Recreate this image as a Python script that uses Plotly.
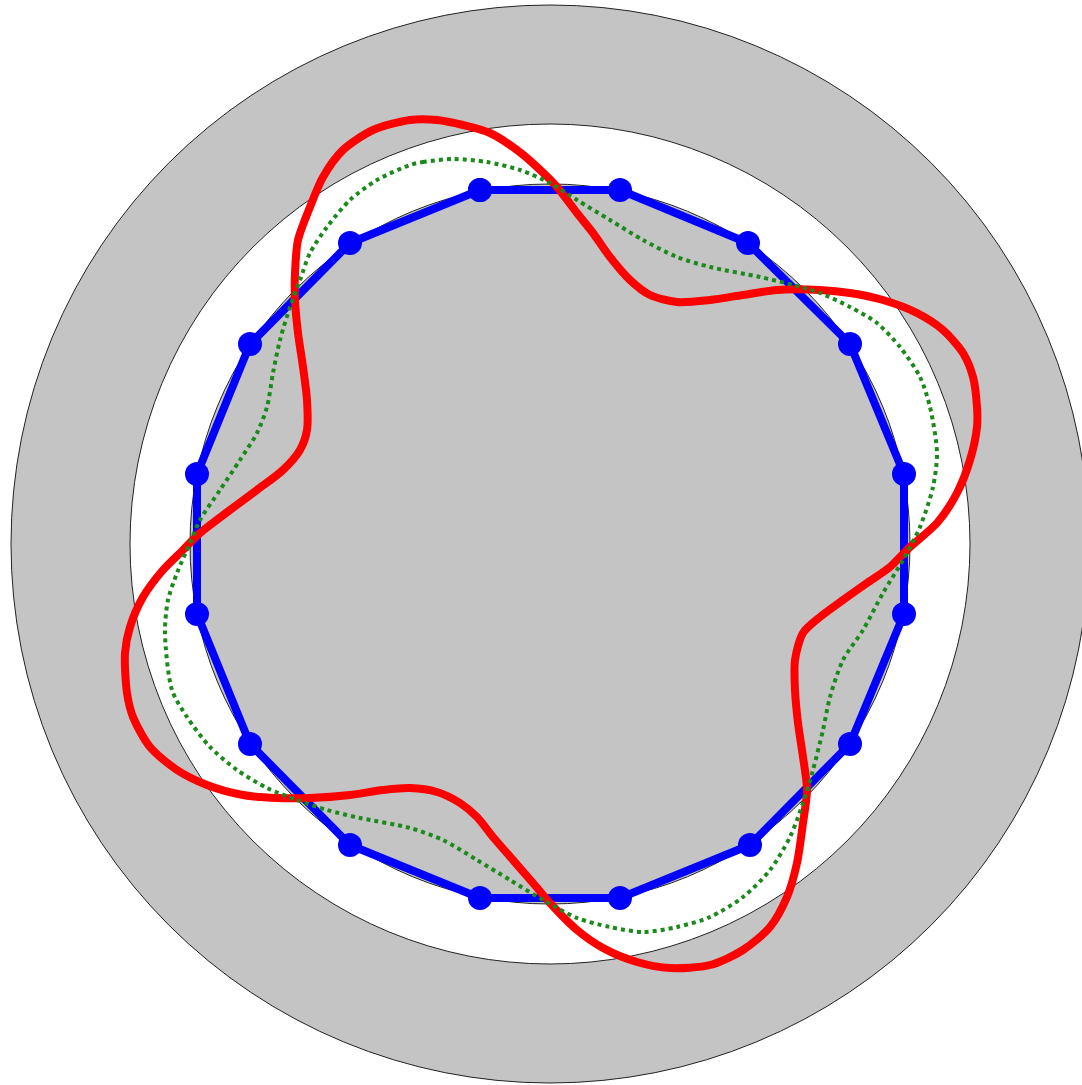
import plotly.graph_objects as go

# ---- data (data units: centred on the shaft axis, y up) ----
ring_radii = [539, 420, 360]          # outer housing, bore, rotor
ring_fills = ["#c4c4c4", "#ffffff", "#c4c4c4"]

poly_x = [-70, 70, 198, 300, 354, 354, 300, 200, 70, -70, -200, -300, -353, -353, -300, -200, -70]
poly_y = [354, 354, 301, 200, 70, -70, -200, -301, -354, -354, -301, -200, -70, 70, 200, 301, 354]

red_x = [-140, -113, -87, -60, -33, -13, 7, 27, 43, 60, 80, 100, 127, 160, 193, 227, 270, 300, 333, 367,
         393, 413, 423, 427, 427, 420, 407, 387, 360, 340, 317, 293, 270, 253, 245, 245, 248, 253, 257,
         253, 247, 237, 220, 193, 160, 120, 87, 53, 27, 0, -17, -37, -57, -73, -90, -113, -140, -167,
         -200, -240, -273, -307, -343, -373, -400, -417, -423, -425, -420, -407, -387, -367, -350, -320,
         -293, -267, -250, -243, -243, -247, -252, -255, -255, -252, -240, -227, -207, -177, -140]
red_y = [424, 424, 419, 411, 394, 377, 357, 331, 311, 287, 264, 249, 242, 244, 249, 254, 254, 251, 244, 231,
         214, 191, 167, 137, 117, 84, 51, 21, -3, -23, -39, -56, -73, -89, -116, -146, -179, -213, -246,
         -279, -319, -353, -383, -406, -421, -424, -418, -404, -386, -359, -339, -316, -293, -273, -259,
         -248, -244, -246, -251, -254, -254, -251, -241, -226, -203, -173, -149, -109, -83, -53, -26, -6,
         11, 34, 54, 74, 94, 114, 144, 177, 211, 244, 271, 304, 337, 367, 394, 414, 424]

green_x = [-140, -127, -97, -63, -30, 0, 27, 60, 93, 127, 160, 210, 243, 270, 300, 327, 350, 370, 380, 387,
           383, 370, 353, 333, 313, 293, 280, 273, 263, 253, 240, 220, 193, 160, 127, 93, 60, 27, -7, -40,
           -73, -107, -140, -190, -223, -253, -283, -313, -340, -363, -378, -385, -382, -373, -360, -350,
           -330, -310, -293, -283, -277, -270, -260, -250, -240, -223, -200, -173, -140]
green_y = [379, 382, 385, 382, 374, 361, 344, 324, 304, 287, 277, 267, 259, 251, 237, 221, 197, 167, 137, 91,
           57, 17, -16, -49, -86, -116, -153, -186, -226, -259, -293, -326, -353, -373, -383, -388, -383,
           -374, -356, -336, -316, -296, -284, -274, -266, -256, -244, -226, -203, -173, -146, -89, -56, -29,
           1, 24, 54, 84, 111, 137, 171, 204, 237, 264, 291, 317, 344, 364, 379]

# ---- figure ----
W, H = 1082, 1085
cx_px, cy_px = 550, 544

fig = go.Figure()

shapes = []
for r, col in zip(ring_radii, ring_fills):
    shapes.append(dict(type="circle", xref="x", yref="y", x0=-r, x1=r, y0=-r, y1=r,
                       fillcolor=col, line=dict(color="#222222", width=1), layer="below"))

fig.add_trace(go.Scatter(x=poly_x, y=poly_y, mode="lines+markers",
                         line=dict(color="#0000ff", width=8),
                         marker=dict(color="#0000ff", size=24), hoverinfo="skip"))
fig.add_trace(go.Scatter(x=red_x, y=red_y, mode="lines",
                         line=dict(color="#ff0000", width=8, shape="spline", smoothing=0.8),
                         hoverinfo="skip"))
fig.add_trace(go.Scatter(x=green_x, y=green_y, mode="lines",
                         line=dict(color="#1a8a1a", width=4, shape="spline", smoothing=0.8,
                                   dash="4px,4px"),
                         hoverinfo="skip"))

fig.update_layout(
    width=W, height=H, margin=dict(l=0, r=0, t=0, b=0),
    paper_bgcolor="white", plot_bgcolor="white", showlegend=False,
    shapes=shapes,
    xaxis=dict(range=[-cx_px, W - cx_px], visible=False, showgrid=False, zeroline=False,
               fixedrange=True),
    yaxis=dict(range=[cy_px - H, cy_px], visible=False, showgrid=False, zeroline=False,
               fixedrange=True),
)

fig.write_html("out.html", config={"displayModeBar": False, "staticPlot": True},
               post_script="document.body.style.margin='0px';document.body.style.overflow='hidden';")
